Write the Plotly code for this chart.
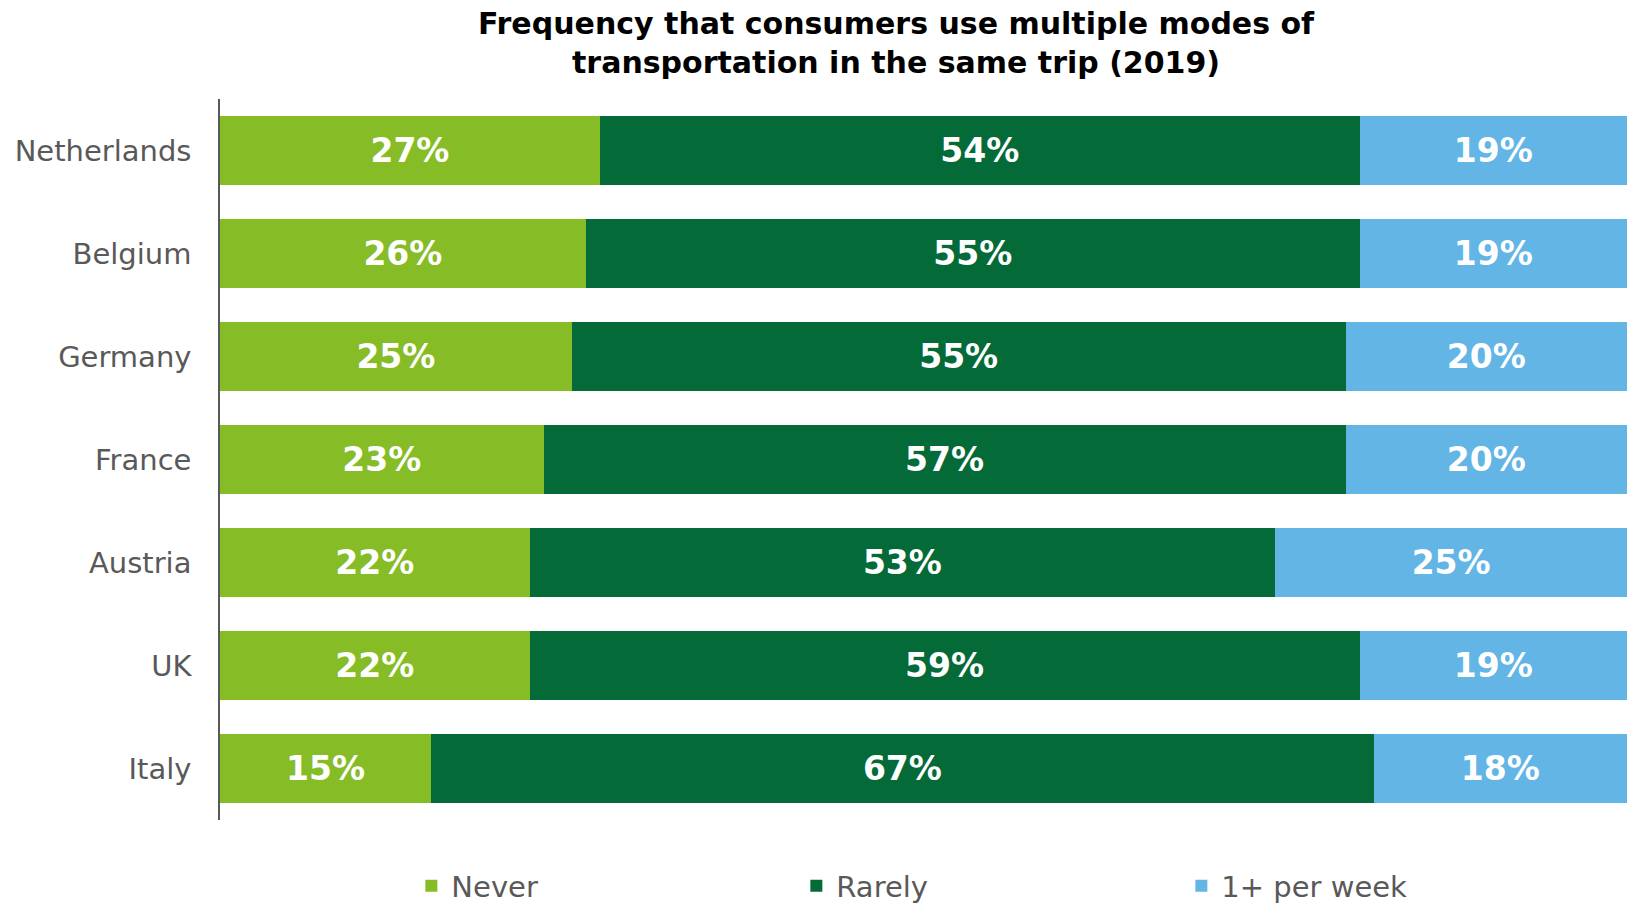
import plotly.graph_objects as go

# Survey answers per country (percent of respondents)
countries = ["Netherlands", "Belgium", "Germany", "France", "Austria", "UK", "Italy"]
never = [27, 26, 25, 23, 22, 22, 15]
rarely = [54, 55, 55, 57, 53, 59, 67]
weekly = [19, 19, 20, 20, 25, 19, 18]

series = [
    ("Never", never, "#86BC25"),
    ("Rarely", rarely, "#046A38"),
    ("1+ per week", weekly, "#62B5E5"),
]

title_lines = [
    "Frequency that consumers use multiple modes of",
    "transportation in the same trip (2019)",
]

FONT = "DejaVu Sans, Verdana, sans-serif"
GREY = "#595959"

fig = go.Figure()
for name, vals, color in series:
    fig.add_trace(go.Bar(
        name=name,
        y=countries,
        x=vals,
        orientation="h",
        marker=dict(color=color, line=dict(width=0)),
        texttemplate="%{x}%",
        textposition="inside",
        insidetextanchor="middle",
        textangle=0,
        constraintext="none",
        textfont=dict(family=FONT, size=33, color="white", weight="bold"),
        hoverinfo="skip",
    ))

# Two-line chart title, centred above the bars
for line, ypos in zip(title_lines, [1.1054, 1.0513]):
    fig.add_annotation(
        text=line,
        xref="paper", yref="paper",
        x=0.4805, y=ypos,
        xanchor="center", yanchor="middle",
        showarrow=False,
        font=dict(family=FONT, size=30, color="black", weight="bold"),
    )

fig.update_layout(
    barmode="stack",
    bargap=0.337,
    width=1627,
    height=903,
    margin=dict(l=220, r=0, t=99, b=83, autoexpand=False),
    paper_bgcolor="white",
    plot_bgcolor="white",
    font=dict(family=FONT, color=GREY),
    legend=dict(
        orientation="h",
        x=0.136, xanchor="left", xref="paper",
        y=0.0188, yanchor="middle", yref="container",
        entrywidth=340, entrywidthmode="pixels",
        font=dict(family=FONT, size=29, color=GREY),
        traceorder="normal",
    ),
    showlegend=True,
)

fig.update_xaxes(
    range=[0, 100],
    showticklabels=False,
    showgrid=False,
    zeroline=False,
    showline=False,
    fixedrange=True,
)
fig.update_yaxes(
    autorange="reversed",
    showgrid=False,
    zeroline=False,
    showline=True,
    linecolor=GREY,
    linewidth=1.5,
    ticks="",
    ticklabelstandoff=21,
    tickfont=dict(family=FONT, size=29, color=GREY),
)

fig.write_html("out.html")
